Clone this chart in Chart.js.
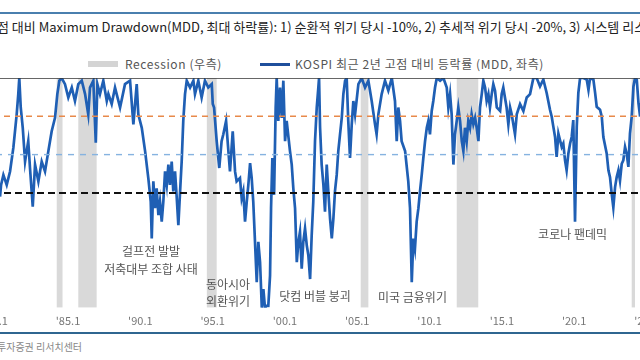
<!DOCTYPE html>
<html>
<head>
<meta charset="utf-8">
<script src="https://cdn.jsdelivr.net/npm/chart.js"></script>
<style>
  body { margin:0; width:640px; height:360px; overflow:hidden; background:#fff; position:relative;
         font-family:"Noto Sans CJK KR", "Noto Sans", sans-serif; }
  .abs { position:absolute; white-space:nowrap; }
  #topRule { left:0; top:12px; width:640px; height:2px; background:#4a7fae; }
  #title { left:-3px; top:18px; font-size:13px; color:#222; line-height:18px; }
  #title .pre, #source .pre { position:absolute; right:100%; }
  #legend { left:88px; top:56px; font-size:12px; letter-spacing:0.6px; color:#555; line-height:16px; display:flex; align-items:center; }
  #legend .box { display:inline-block; width:30px; height:6px; background:#d4d4d4; margin-right:7px; }
  #legend .ln { display:inline-block; width:30px; height:3px; background:#1f4f9c; margin-left:38px; margin-right:5px; }
  #wrap { left:-40px; top:70px; }
  #bottomRule { left:0; top:332px; width:640px; height:2px; background:#2f6690; }
  #source { left:-3px; top:340px; font-size:10px; color:#888; line-height:14px; }
</style>
</head>
<body>
<div id="topRule" class="abs"></div>
<div id="title" class="abs"><span class="pre">KOSPI 최근 2년 고</span>점 대비 Maximum Drawdown(MDD, 최대 하락률): 1) 순환적 위기 당시 -10%, 2) 추세적 위기 당시 -20%, 3) 시스템 리스크 당시 -30%</div>
<div id="legend" class="abs"><span class="box"></span>Recession (우측)<span class="ln"></span>KOSPI 최근 2년 고점 대비 등락률 (MDD, 좌측)</div>
<div id="wrap" class="abs"><canvas id="chart" width="720" height="263"></canvas></div>
<div id="bottomRule" class="abs"></div>
<div id="source" class="abs"><span class="pre">자료: 한화</span>투자증권 리서치센터</div>

<script>
// x axis range (years) and ticks
var xMin = 1977.53, xMax = 2027.32;
var tickYears = [1980, 1985, 1990, 1995, 2000, 2005, 2010, 2015, 2020, 2025];
var tickLabels = ["'80.1", "'85.1", "'90.1", "'95.1", "'00.1", "'05.1", "'10.1", "'15.1", "'20.1", "'25.1"];

// recession periods (right axis)
var recStart = [1984.22, 1985.71, 1994.60, 2005.24, 2011.88, 2023.98];
var recEnd   = [1984.62, 1986.98, 1995.28, 2005.77, 2013.37, 2024.21];

// reference levels
var refValues = [0, -10, -20, -30];
var refColors = ['#333333', '#e8894a', '#86b3e0', '#111111'];
var refDash   = [[], [6, 5], [6, 6], [7, 4]];
var refWidth  = [1.5, 1.6, 1.4, 2];

// KOSPI drawdown vs 2y high (%)
var kospiYears = [
 1980.30,1980.37,1980.53,1980.76,1980.99,1981.22,1981.45,1981.56,1981.63,1981.73,1981.87,1982.03,1982.14,1982.25,1982.37,1982.56,1982.72,1982.95,
 1983.18,1983.41,1983.64,1983.87,1984.10,1984.26,1984.40,1984.56,1984.79,1985.02,1985.26,1985.48,1985.71,1985.95,1986.18,1986.40,1986.52,1986.75,
 1986.92,1987.03,1987.21,1987.44,1987.68,1987.79,1988.02,1988.25,1988.60,1988.94,1989.29,1989.52,1989.75,1989.86,1990.10,1990.33,1990.55,1990.72,
 1990.79,1990.90,1991.02,1991.13,1991.25,1991.36,1991.48,1991.59,1991.71,1991.83,1991.94,1992.05,1992.17,1992.28,1992.40,1992.52,1992.63,1992.75,
 1992.86,1992.97,1993.09,1993.21,1993.44,1993.67,1993.78,1994.01,1994.24,1994.47,1994.70,1994.94,1995.01,1995.10,1995.28,1995.46,1995.62,1995.74,
 1995.93,1996.09,1996.20,1996.39,1996.55,1996.66,1996.89,1997.01,1997.12,1997.24,1997.36,1997.47,1997.59,1997.70,1997.81,1997.93,1998.05,1998.16,
 1998.28,1998.40,1998.51,1998.62,1998.74,1998.85,1998.97,1999.04,1999.13,1999.25,1999.36,1999.43,1999.54,1999.66,1999.78,1999.89,2000.01,2000.12,
 2000.35,2000.47,2000.58,2000.70,2000.82,2000.93,2001.04,2001.16,2001.27,2001.39,2001.51,2001.62,2001.74,2001.85,2001.96,2002.08,2002.20,2002.31,
 2002.36,2002.43,2002.54,2002.66,2002.77,2002.89,2003.00,2003.12,2003.24,2003.35,2003.46,2003.58,2003.69,2003.81,2003.93,2004.04,2004.16,2004.27,
 2004.38,2004.50,2004.62,2004.73,2004.85,2005.08,2005.31,2005.54,2005.77,2006.00,2006.23,2006.34,2006.46,2006.69,2006.92,2007.15,2007.39,2007.61,
 2007.73,2007.84,2007.96,2008.07,2008.31,2008.53,2008.65,2008.77,2008.88,2008.99,2009.11,2009.23,2009.34,2009.46,2009.57,2009.69,2009.81,2009.92,
 2010.03,2010.15,2010.26,2010.38,2010.50,2010.73,2010.96,2011.19,2011.30,2011.42,2011.53,2011.65,2011.76,2011.88,2011.99,2012.11,2012.23,2012.34,
 2012.45,2012.57,2012.68,2012.80,2012.91,2013.03,2013.15,2013.26,2013.38,2013.49,2013.61,2013.72,2013.84,2013.95,2014.07,2014.18,2014.30,2014.41,
 2014.53,2014.65,2014.88,2014.99,2015.10,2015.33,2015.45,2015.57,2015.68,2015.91,2016.03,2016.26,2016.49,2016.72,2016.95,2017.18,2017.41,2017.64,
 2017.87,2018.10,2018.33,2018.45,2018.56,2018.68,2018.79,2018.91,2019.02,2019.14,2019.25,2019.37,2019.48,2019.60,2019.72,2019.83,2019.94,2020.06,
 2020.18,2020.29,2020.41,2020.64,2020.87,2020.99,2021.10,2021.33,2021.45,2021.56,2021.79,2021.91,2022.02,2022.25,2022.37,2022.48,2022.60,2022.71,
 2022.83,2022.94,2023.06,2023.17,2023.29,2023.40,2023.52,2023.63,2023.75,2023.86,2023.98,2024.10,2024.21,2024.33,2024.45,2024.56
];
var kospiMdd = [
 -31.0,-27.9,-25.3,-27.9,-24.4,-18.2,-9.5,-4.2,0,-7.7,-13.0,-21.8,-19.1,-16.5,-23.5,-33.6,-22.6,-27.0,
 -21.8,-24.4,-19.1,-13.9,-10.4,-4.2,-0.7,0,-1.6,-5.1,-2.5,-6.0,-1.6,-0.7,-4.2,-9.5,-2.5,-0.7,
 -16.9,-1.6,-4.2,-0.7,-6.0,-4.2,-6.8,-2.5,-7.7,-1.6,-0.7,-12.1,-1.6,-9.5,-13.0,-19.1,-26.1,-32.3,
 -41.9,-27.0,-34.0,-28.8,-35.8,-32.3,-37.5,-32.3,-24.4,-27.9,-22.6,-27.9,-21.8,-29.6,-24.4,-31.4,-38.4,-29.6,
 -21.8,-11.2,-4.2,-0.7,-2.5,-0.7,-4.2,-0.7,-5.1,-0.7,-2.5,-1.6,-6.8,-7.7,-16.5,-23.5,-16.5,-14.7,
 -11.2,-19.1,-24.4,-13.9,-24.4,-27.0,-26.1,-31.4,-29.6,-37.5,-32.3,-27.9,-22.2,-26.1,-32.3,-42.8,-53.3,-42.8,
 -48.1,-60.0,-55.1,-60.0,-59.5,-59.5,-51.6,-34.0,-20.9,-30.5,-7.7,0,-11.2,-2.5,-10.4,-0.7,-16.5,-11.2,
 -19.1,-22.6,-28.8,-34.0,-48.1,-42.8,-40.2,-49.8,-42.8,-39.3,-43.7,-46.3,-52.5,-41.1,-32.3,-16.5,-7.7,-2.5,
 0,-13.0,-22.6,-27.9,-34.9,-22.6,-29.6,-36.7,-41.9,-36.7,-29.6,-25.3,-19.1,-14.7,-10.4,-4.2,-0.7,0,
 -11.2,-20.9,-12.1,-6.0,-9.5,-1.6,0,-2.5,-0.7,-6.0,-12.1,-14.7,-9.5,-4.2,-0.7,-3.3,0,-6.0,
 -16.5,-7.7,-11.2,-16.5,-19.1,-27.0,-34.0,-53.3,-41.9,-44.6,-37.5,-34.0,-29.6,-25.3,-20.9,-16.5,-13.0,-11.2,
 -14.7,-8.6,-6.0,-2.5,0,-0.7,0,-2.5,-7.7,-4.2,-9.5,-22.6,-14.7,-11.2,-7.7,-11.2,-16.5,-19.1,
 -13.0,-16.5,-11.2,-13.0,-9.5,-12.1,-10.4,-13.0,-16.5,-7.7,-4.2,-0.7,-2.5,-6.0,-4.2,-7.7,-4.2,-1.6,
 -3.3,-7.7,-8.6,-4.2,-2.5,-7.7,-12.1,-7.7,-9.5,-14.7,-9.5,-6.8,-8.6,-5.1,-4.2,0,0,-2.2,
 -0.4,-3.9,-8.3,-10.1,-12.7,-15.4,-20.6,-14.5,-16.2,-18.0,-17.1,-21.5,-24.1,-19.7,-17.1,-15.4,-11.0,-37.5,
 -12.7,-3.9,0,0,-0.4,-3.1,0,-0.4,-3.9,-7.5,-8.3,-10.1,-15.4,-19.7,-24.1,-25.9,-30.3,-33.8,
 -28.5,-25.9,-24.1,-26.8,-22.4,-21.5,-18.0,-19.7,-23.2,-14.5,-10.1,-2.2,0,-0.4,-6.6,-10.1
];

// event notes
var notes = [
  { text: '걸프전 발발', year: 1990.74, value: -45.3 },
  { text: '저축대부 조합 사태', year: 1990.74, value: -50.0 },
  { text: '동아시아', year: 1996.06, value: -53.9 },
  { text: '외환위기', year: 1996.06, value: -58.4 },
  { text: '닷컴 버블 붕괴', year: 2002.08, value: -57.1 },
  { text: '미국 금융위기', year: 2008.82, value: -57.4 },
  { text: '코로나 팬데믹', year: 2019.89, value: -40.8 }
];

var kospiData = kospiYears.map(function (t, i) { return { x: t, y: kospiMdd[i] }; });

var recData = [{ x: xMin, y: 0 }];
for (var i = 0; i < recStart.length; i++) {
  recData.push({ x: recStart[i], y: 1 });
  recData.push({ x: recEnd[i], y: 0 });
}
recData.push({ x: xMax, y: 0 });

var datasets = [{
  label: 'Recession (우측)',
  data: recData,
  yAxisID: 'y1',
  stepped: true,
  fill: 'origin',
  backgroundColor: '#d9d9d9',
  borderColor: 'transparent',
  borderWidth: 0,
  pointRadius: 0,
  order: 3
}, {
  label: 'KOSPI 최근 2년 고점 대비 등락률 (MDD, 좌측)',
  data: kospiData,
  borderColor: '#1f5fb4',
  borderWidth: 2.7,
  pointRadius: 0,
  tension: 0,
  order: 2
}];

refValues.forEach(function (v, i) {
  datasets.push({
    label: 'ref' + v,
    data: [{ x: xMin, y: v }, { x: xMax, y: v }],
    borderColor: refColors[i],
    borderDash: refDash[i],
    borderWidth: refWidth[i],
    pointRadius: 0,
    order: 1
  });
});

var notesPlugin = {
  id: 'notes',
  afterDatasetsDraw: function (chart) {
    var ctx = chart.ctx, xs = chart.scales.x, ys = chart.scales.y;
    ctx.save();
    ctx.font = '12px "Noto Sans CJK KR"';
    ctx.fillStyle = '#555';
    ctx.textAlign = 'center';
    ctx.textBaseline = 'middle';
    notes.forEach(function (n) {
      ctx.fillText(n.text, xs.getPixelForValue(n.year), ys.getPixelForValue(n.value));
    });
    ctx.restore();
  }
};

new Chart(document.getElementById('chart'), {
  type: 'line',
  data: { datasets: datasets },
  plugins: [notesPlugin],
  options: {
    responsive: false,
    animation: false,
    layout: { padding: { top: 8, bottom: 0, left: 0, right: 0 } },
    plugins: { legend: { display: false }, tooltip: { enabled: false } },
    scales: {
      x: {
        type: 'linear', min: xMin, max: xMax,
        grid: { display: false, drawTicks: false },
        border: { display: false },
        afterBuildTicks: function (s) { s.ticks = tickYears.map(function (v) { return { value: v }; }); },
        ticks: {
          padding: 6, autoSkip: false, maxRotation: 0, color: '#777',
          font: { size: 11, family: '"Noto Sans CJK KR"' },
          callback: function (v) { var k = tickYears.indexOf(v); return k < 0 ? '' : tickLabels[k]; }
        }
      },
      y: { min: -60, max: 0, display: false },
      y1: { min: 0, max: 1, display: false, position: 'right' }
    }
  }
});
</script>
</body>
</html>
